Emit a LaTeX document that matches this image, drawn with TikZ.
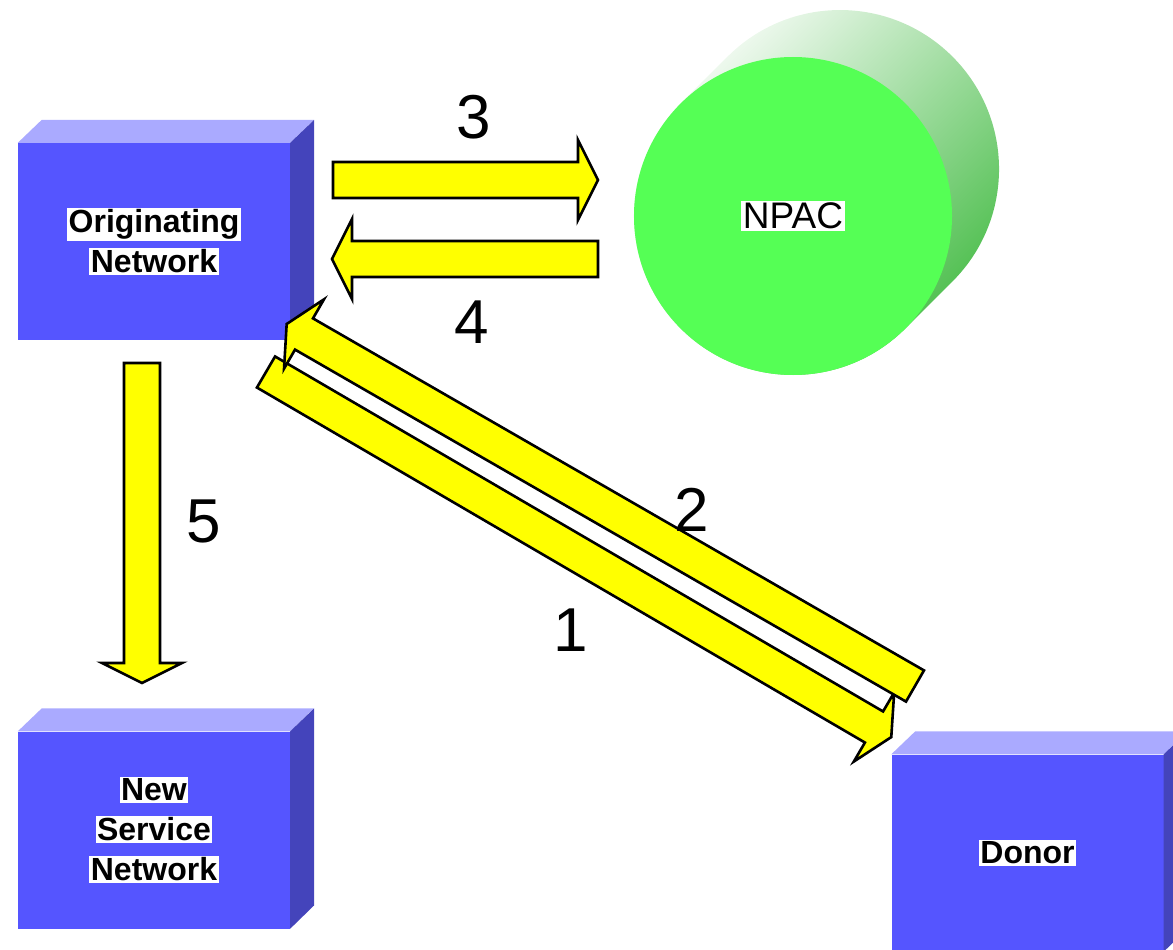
\documentclass[tikz,border=0pt]{standalone}
\usepackage{fontspec}
\setmainfont{Liberation Sans}
\usetikzlibrary{calc}
\definecolor{boxfront}{RGB}{85,85,255}
\definecolor{boxtop}{RGB}{170,170,255}
\definecolor{boxside}{RGB}{68,68,187}
\definecolor{npacfront}{RGB}{85,255,85}
\definecolor{npacside}{RGB}{68,187,68}
\definecolor{arrowfill}{RGB}{255,255,0}
\def\hl#1{{\setlength{\fboxsep}{1.5pt}\colorbox{white}{#1}}}

\tikzset{
	netbox/.style={fill=boxfront, minimum width=272pt, minimum height=197pt, inner sep=0pt, align=center, font=\fontsize{32}{40}\selectfont\bfseries},
	steplabel/.style={inner sep=0pt, font=\fontsize{62}{62}\selectfont},
	fatarrow/.style={draw=black, line width=2.6pt, fill=arrowfill, to path={
		($(\tikztostart)!18pt!90:(\tikztotarget)$) -- ($(\tikztotarget)!18pt!-90:(\tikztostart)$)
		-- ($(\tikztotarget)!40pt!-90:(\tikztostart)$) -- ($(\tikztotarget)!-20pt!(\tikztostart)$)
		-- ($(\tikztotarget)!40pt!90:(\tikztostart)$) -- ($(\tikztotarget)!18pt!90:(\tikztostart)$)
		-- ($(\tikztostart)!18pt!-90:(\tikztotarget)$) -- cycle}}
}

\begin{document}
\begin{tikzpicture}[x=1pt, y=-1pt]
			%%%%% START %%%%%
			\useasboundingbox (0,0) rectangle (1173,950);
			
			% boxes
			\node[netbox] (orig) at (154,241.5) {\hl{Originating}\\\hl{Network}};
			\fill[boxtop] (orig.north west) -- ++(24,-23) -- ++(272,0) -- (orig.north east) -- cycle;
			\fill[boxside] (orig.north east) -- ++(24,-23) -- ++(0,197) -- (orig.south east) -- cycle;
			
			\node[netbox] (newsp) at (154,830) {\hl{New}\\\hl{Service}\\\hl{Network}};
			\fill[boxtop] (newsp.north west) -- ++(24,-23) -- ++(272,0) -- (newsp.north east) -- cycle;
			\fill[boxside] (newsp.north east) -- ++(24,-23) -- ++(0,197) -- (newsp.south east) -- cycle;
			
			\node[netbox] (donor) at (1027.5,853) {\hl{Donor}};
			\fill[boxtop] (donor.north west) -- ++(24,-23) -- ++(272,0) -- (donor.north east) -- cycle;
			\fill[boxside] (donor.north east) -- ++(24,-23) -- ++(0,197) -- (donor.south east) -- cycle;
			
			% npac cylinder
			\coordinate (npacback) at (840,169);
			\coordinate (npaccenter) at (793,216);
			\shade[top color=white, bottom color=npacside, shading angle=45] ($(npacback)+(-112.4,-112.4)$) arc[start angle=-135, end angle=45, radius=159] -- ($(npaccenter)+(112.4,112.4)$) arc[start angle=45, end angle=225, radius=159] -- cycle;
			\node[circle, fill=npacfront, minimum size=318pt, inner sep=0pt, font=\fontsize{37}{40}\selectfont] (npac) at (npaccenter) {\hl{NPAC}};
			
			% arrows
			\coordinate (orig3) at (333,180);
			\coordinate (npac3) at (578,180);
			\coordinate (npac4) at (598,259);
			\coordinate (orig4) at (352,259);
			\coordinate (orig5) at (142,363);
			\coordinate (newsp5) at (142,663);
			\coordinate (orig1) at (266,372);
			\coordinate (donor1) at (874,727);
			\coordinate (donor2) at (915,686);
			\coordinate (orig2) at (304,334);
			
			\draw[fatarrow] (orig3) to (npac3);
			\draw[fatarrow] (npac4) to (orig4);
			\draw[fatarrow] (orig5) to (newsp5);
			\draw[fatarrow] (orig1) to (donor1);
			\draw[fatarrow] (donor2) to (orig2);
			
			% step numbers
			\node[steplabel] (n1) at (571,630) {1};
			\node[steplabel] (n2) at (692,510) {2};
			\node[steplabel] (n3) at (474,117) {3};
			\node[steplabel] (n4) at (472,322) {4};
			\node[steplabel] (n5) at (204,521) {5};
			
			%%%%% END %%%%%
\end{tikzpicture}
\end{document}
